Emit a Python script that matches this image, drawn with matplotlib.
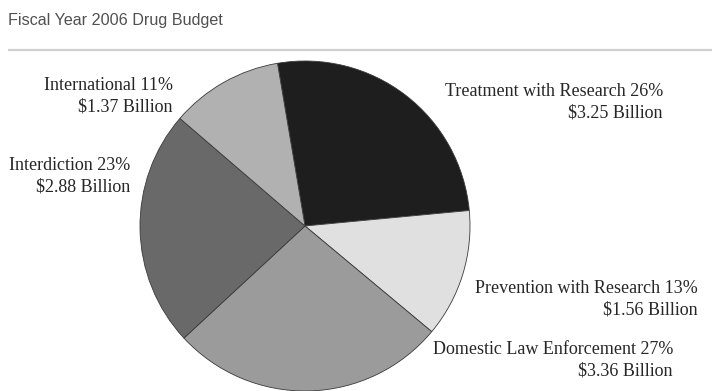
import matplotlib
matplotlib.use("Agg")
import matplotlib.pyplot as plt

# FY2006 drug control budget, billions of dollars
categories = ["Treatment with Research", "Prevention with Research",
              "Domestic Law Enforcement", "Interdiction", "International"]
billions = [3.25, 1.56, 3.36, 2.88, 1.37]
percents = [26, 13, 27, 23, 11]
shades = ["#1e1e1e", "#e0e0e0", "#9b9b9b", "#696969", "#b1b1b1"]

W, H = 712, 391
fig = plt.figure(figsize=(W / 100, H / 100), dpi=100)
fig.patch.set_facecolor("white")

# overlay in pixel coordinates for title, rule and labels
bg = fig.add_axes([0, 0, 1, 1])
bg.set_xlim(0, W)
bg.set_ylim(H, 0)
bg.axis("off")

bg.text(8, 20, "Fiscal Year 2006 Drug Budget", ha="left", va="center",
        fontsize=11.6, color="#505050", family="Liberation Sans")
bg.plot([8, W], [50, 50], color="#cfcfcf", lw=1.6, solid_capstyle="butt")

# pie: centre (305, 226) px, radius 165 px
cx, cy, r = 305, 226, 165
pie_ax = fig.add_axes([(cx - r) / W, (H - cy - r) / H, 2 * r / W, 2 * r / H])
pie_ax.pie(billions, colors=shades, startangle=99.6, counterclock=False,
           wedgeprops=dict(edgecolor="#3a3a3a", linewidth=0.6))
pie_ax.set_xlim(-1, 1)
pie_ax.set_ylim(-1, 1)
pie_ax.set_aspect("equal")
pie_ax.axis("off")

# label anchors: right edge x, centre of the two-line block y
label_pos = [(663, 102), (698, 299), (673, 360), (130, 176), (173, 96)]
for name, pct, val, (lx, ly) in zip(categories, percents, billions, label_pos):
    bg.text(lx, ly, f"{name} {pct}%\n${val:.2f} Billion", ha="right",
            va="center", multialignment="right", fontsize=13,
            linespacing=1.35, color="#262626", family="Liberation Serif")

fig.savefig("out.png", dpi=100, facecolor="white")
